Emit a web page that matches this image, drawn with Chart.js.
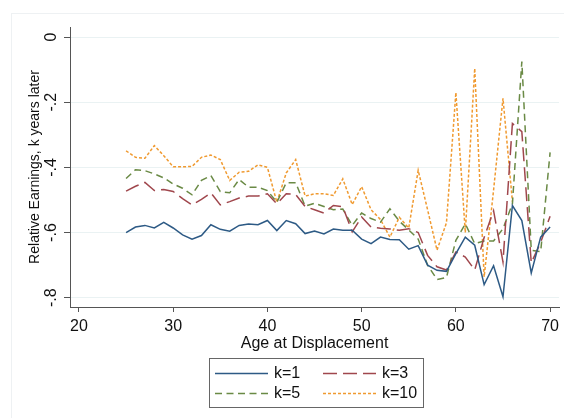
<!DOCTYPE html>
<html>
<head>
    <title>Relative Earnings by Age at Displacement</title>
    <!-- Chart.js library -->
    <script src="https://cdn.jsdelivr.net/npm/chart.js"></script>
    <style>
        body { margin: 0; background: #fff; }
    </style>
</head>
<body>
    <canvas id="myChart" width="564" height="418"></canvas>

    <script>
        // Age at displacement (x) and relative earnings k years later (y)
        var ages = [25, 26, 27, 28, 29, 30, 31, 32, 33, 34, 35, 36, 37, 38, 39, 40,
                    41, 42, 43, 44, 45, 46, 47, 48, 49, 50, 51, 52, 53, 54, 55, 56,
                    57, 58, 59, 60, 61, 62, 63, 64, 65, 66, 67, 68, 69, 70];

        var k1 = [-0.600, -0.583, -0.578, -0.586, -0.569, -0.586, -0.607, -0.620, -0.609, -0.576,
                  -0.590, -0.596, -0.578, -0.574, -0.576, -0.563, -0.594, -0.563, -0.573, -0.603,
                  -0.595, -0.604, -0.589, -0.593, -0.593, -0.620, -0.634, -0.614, -0.621, -0.622,
                  -0.651, -0.640, -0.700, -0.716, -0.719, -0.665, -0.614, -0.639, -0.760, -0.702,
                  -0.797, -0.517, -0.563, -0.724, -0.614, -0.583];

        var k3 = [-0.473, -0.458, -0.446, -0.471, -0.468, -0.474, -0.496, -0.515, -0.498, -0.478,
                  -0.515, -0.505, -0.494, -0.488, -0.488, -0.481, -0.512, -0.481, -0.483, -0.520,
                  -0.530, -0.540, -0.517, -0.521, -0.598, -0.552, -0.583, -0.587, -0.589, -0.593,
                  -0.588, -0.600, -0.670, -0.705, -0.715, -0.660, -0.675, -0.715, -0.615, -0.533,
                  -0.690, -0.265, -0.290, -0.693, -0.630, -0.550];

        var k5 = [-0.434, -0.407, -0.410, -0.420, -0.432, -0.451, -0.464, -0.484, -0.440, -0.425,
                  -0.474, -0.478, -0.437, -0.461, -0.461, -0.471, -0.507, -0.447, -0.447, -0.519,
                  -0.510, -0.520, -0.530, -0.528, -0.578, -0.540, -0.557, -0.568, -0.527, -0.565,
                  -0.592, -0.620, -0.700, -0.744, -0.738, -0.624, -0.573, -0.634, -0.626, -0.626,
                  -0.588, -0.512, -0.075, -0.654, -0.659, -0.354];

        // k=10 stops at age 66
        var k10 = [-0.349, -0.369, -0.372, -0.333, -0.364, -0.398, -0.398, -0.397, -0.369, -0.362,
                   -0.376, -0.440, -0.415, -0.412, -0.392, -0.400, -0.507, -0.417, -0.376, -0.488,
                   -0.481, -0.481, -0.486, -0.435, -0.514, -0.459, -0.530, -0.560, -0.614, -0.553,
                   -0.586, -0.409, -0.530, -0.654, -0.570, -0.170, -0.600, -0.096, -0.736, -0.470,
                   -0.188, -0.505, null, null, null, null];

        var xTicks = [20, 30, 40, 50, 60, 70];
        var yTicks = [-0.8, -0.6, -0.4, -0.2, 0];
        var yTickLabels = ["-.8", "-.6", "-.4", "-.2", "0"];

        var axisColor = '#555';
        var FONT = '"Liberation Sans", Arial, sans-serif';

        function points(values) {
            return ages.map(function(a, i) { return { x: a, y: values[i] }; });
        }

        // light frame round the graph region, then the key under the plot
        var framePlugin = {
            id: 'frame',
            beforeDraw: function(chart) {
                var ctx = chart.ctx;
                ctx.save();
                ctx.fillStyle = '#fff';
                ctx.fillRect(0, 0, chart.width, chart.height);
                ctx.strokeStyle = '#eef1f3';
                ctx.lineWidth = 1;
                ctx.strokeRect(11.5, 13.5, chart.width, chart.height);
                ctx.restore();
            }
        };

        var keyPlugin = {
            id: 'keyBox',
            afterDraw: function(chart) {
                var ctx = chart.ctx;
                var slots = [[215, 373], [323, 373], [215, 393], [323, 393]];
                ctx.save();
                ctx.strokeStyle = '#666';
                ctx.lineWidth = 1;
                ctx.strokeRect(209.5, 358.5, 214, 49);
                chart.data.datasets.forEach(function(ds, i) {
                    var sx = slots[i][0], sy = slots[i][1];
                    ctx.strokeStyle = ds.borderColor;
                    ctx.lineWidth = ds.borderWidth;
                    ctx.setLineDash(ds.borderDash || []);
                    ctx.beginPath();
                    ctx.moveTo(sx, sy + 0.5);
                    ctx.lineTo(sx + 53, sy + 0.5);
                    ctx.stroke();
                    ctx.setLineDash([]);
                    ctx.fillStyle = '#111';
                    ctx.font = '16px ' + FONT;
                    ctx.textBaseline = 'middle';
                    ctx.fillText(ds.label, sx + 59, sy + 1);
                });
                ctx.restore();
            }
        };

        var ctx = document.getElementById("myChart").getContext("2d");
        var chart = new Chart(ctx, {
            type: 'line',
            data: {
                datasets: [{
                    label: 'k=1',
                    data: points(k1),
                    borderColor: '#2d5a85',
                    borderWidth: 1.5
                }, {
                    label: 'k=3',
                    data: points(k3),
                    borderColor: '#a0474d',
                    borderWidth: 1.5,
                    borderDash: [14, 6]
                }, {
                    label: 'k=5',
                    data: points(k5),
                    borderColor: '#6a8a45',
                    borderWidth: 1.5,
                    borderDash: [7, 4.5]
                }, {
                    label: 'k=10',
                    data: points(k10),
                    borderColor: '#f09a30',
                    borderWidth: 1.5,
                    borderDash: [3, 2]
                }]
            },
            options: {
                responsive: false,
                devicePixelRatio: 1,
                animation: false,
                layout: { padding: { left: 0, top: 27, right: 0, bottom: 65 } },
                elements: {
                    point: { radius: 0 },
                    line: { tension: 0, fill: false }
                },
                plugins: {
                    legend: { display: false },
                    tooltip: { enabled: false }
                },
                scales: {
                    x: {
                        type: 'linear',
                        min: 19.05,
                        max: 70.95,
                        afterBuildTicks: function(scale) {
                            scale.ticks = xTicks.map(function(v) { return { value: v }; });
                        },
                        afterFit: function(scale) { scale.height = 46; },
                        border: { color: axisColor, width: 1 },
                        grid: { drawOnChartArea: false, drawTicks: true, tickLength: 5, tickColor: axisColor },
                        ticks: {
                            padding: 5,
                            color: '#111',
                            font: { family: FONT, size: 16 },
                            maxRotation: 0
                        },
                        title: {
                            display: true,
                            text: 'Age at Displacement',
                            color: '#111',
                            font: { family: FONT, size: 16 },
                            padding: { top: 0, bottom: 0 }
                        }
                    },
                    y: {
                        min: -0.8285,
                        max: 0.031,
                        afterBuildTicks: function(scale) {
                            scale.ticks = yTicks.map(function(v) { return { value: v }; });
                        },
                        afterFit: function(scale) { scale.width = 70; },
                        border: { color: axisColor, width: 1 },
                        grid: { color: '#eaf2f3', lineWidth: 1, drawTicks: true, tickLength: 6, tickColor: axisColor },
                        ticks: {
                            padding: 3,
                            color: '#111',
                            font: { family: FONT, size: 16 },
                            minRotation: 90,
                            maxRotation: 90,
                            crossAlign: 'center',
                            callback: function(value) {
                                var i = yTicks.indexOf(value);
                                return i >= 0 ? yTickLabels[i] : '';
                            }
                        },
                        title: {
                            display: true,
                            text: 'Relative Earnings, k years later',
                            color: '#111',
                            font: { family: FONT, size: 14 },
                            padding: { top: 27, bottom: 0 }
                        }
                    }
                }
            },
            plugins: [framePlugin, keyPlugin]
        });
    </script>
</body>
</html>
